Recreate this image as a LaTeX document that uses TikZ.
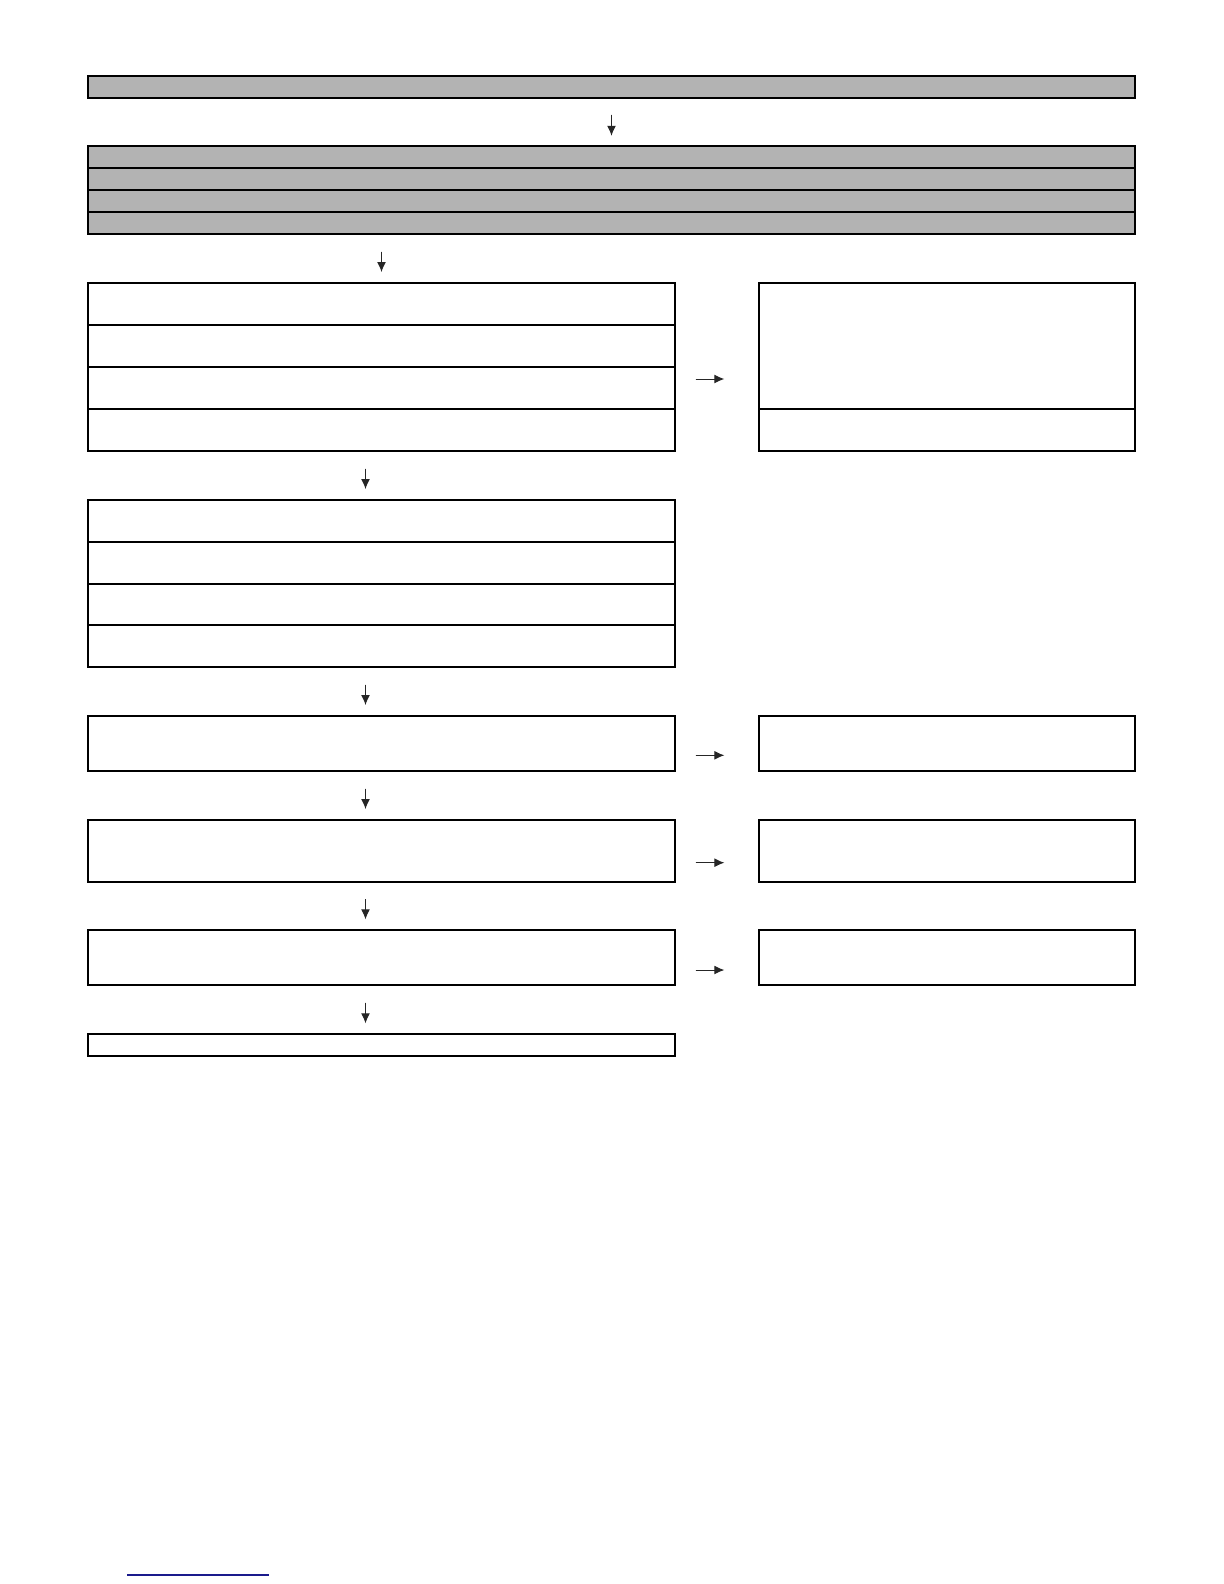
\documentclass[tikz,border=0pt]{standalone}
\usetikzlibrary{fit,calc,arrows.meta}
\definecolor{boxgray}{HTML}{B3B3B3}
\definecolor{linkblue}{HTML}{1A1A8C}
\begin{document}
\begin{tikzpicture}[x=0.5pt,y=-0.5pt,
  box/.style={draw=black,line width=0.6pt,inner sep=0pt,fill=white},
  gbox/.style={box,fill=boxgray},
  arr/.style={-{Latex[length=5pt,width=4.4pt]},line width=0.5pt,draw=black!85,fill=black!85},
  varr/.style={arr,shorten <=8.5pt,shorten >=5.2pt},
  harr/.style={arr,shorten <=10pt,shorten >=17pt}]
\useasboundingbox (0,0) rectangle (1224,1584);
% grey header
\node[gbox,fit={(88,76)(1135,98)}] (top) {};
\node[gbox,fit={(88,146)(1135,168)}] (g1) {};
\node[gbox,fit={(88,168)(1135,190)}] (g2) {};
\node[gbox,fit={(88,190)(1135,212)}] (g3) {};
\node[gbox,fit={(88,212)(1135,234)}] (g4) {};
% stack 1
\node[box,fit={(88,283)(675,325)}] (a1) {};
\node[box,fit={(88,325)(675,367)}] (a2) {};
\node[box,fit={(88,367)(675,409)}] (a3) {};
\node[box,fit={(88,409)(675,451)}] (a4) {};
\node[box,fit={(759,283)(1135,409)}] (r1) {};
\node[box,fit={(759,409)(1135,451)}] (r2) {};
% stack 2
\node[box,fit={(88,500)(675,542)}] (b1) {};
\node[box,fit={(88,542)(675,584)}] (b2) {};
\node[box,fit={(88,584)(675,625)}] (b3) {};
\node[box,fit={(88,625)(675,667)}] (b4) {};
% lower boxes
\node[box,fit={(88,716)(675,771)}] (c) {};
\node[box,fit={(759,716)(1135,771)}] (cr) {};
\node[box,fit={(88,820)(675,882)}] (d) {};
\node[box,fit={(759,820)(1135,882)}] (dr) {};
\node[box,fit={(88,930)(675,985)}] (e) {};
\node[box,fit={(759,930)(1135,985)}] (er) {};
\node[box,fit={(88,1034)(675,1056)}] (f) {};
% vertical arrows
\draw[varr,shorten <=8pt,shorten >=4.8pt] (top.south) -- (g1.north);
\draw[varr] (g4.south -| a1.north) -- (a1.north);
\draw[varr] ($(a4.south)+(-16,0)$) -- ($(b1.north)+(-16,0)$);
\draw[varr] ($(b4.south)+(-16,0)$) -- ($(c.north)+(-16,0)$);
\draw[varr] ($(c.south)+(-16,0)$) -- ($(d.north)+(-16,0)$);
\draw[varr,shorten <=8.2pt,shorten >=5pt] ($(d.south)+(-16,0)$) -- ($(e.north)+(-16,0)$);
\draw[varr,shorten >=5pt] ($(e.south)+(-16,0)$) -- ($(f.north)+(-16,0)$);
% horizontal arrows
\coordinate (h1) at (0,379);
\draw[harr] (h1 -| a3.east) -- (h1 -| r1.west);
\draw[harr] ($(c.east)+(0,11.8)$) -- ($(cr.west)+(0,11.8)$);
\draw[harr] ($(d.east)+(0,11.7)$) -- ($(dr.west)+(0,11.7)$);
\draw[harr] ($(e.east)+(0,12.5)$) -- ($(er.west)+(0,12.5)$);
% stray blue rule at the bottom
\draw[linkblue,line width=0.8pt] (127,1575) -- (269,1575);
\end{tikzpicture}
\end{document}
